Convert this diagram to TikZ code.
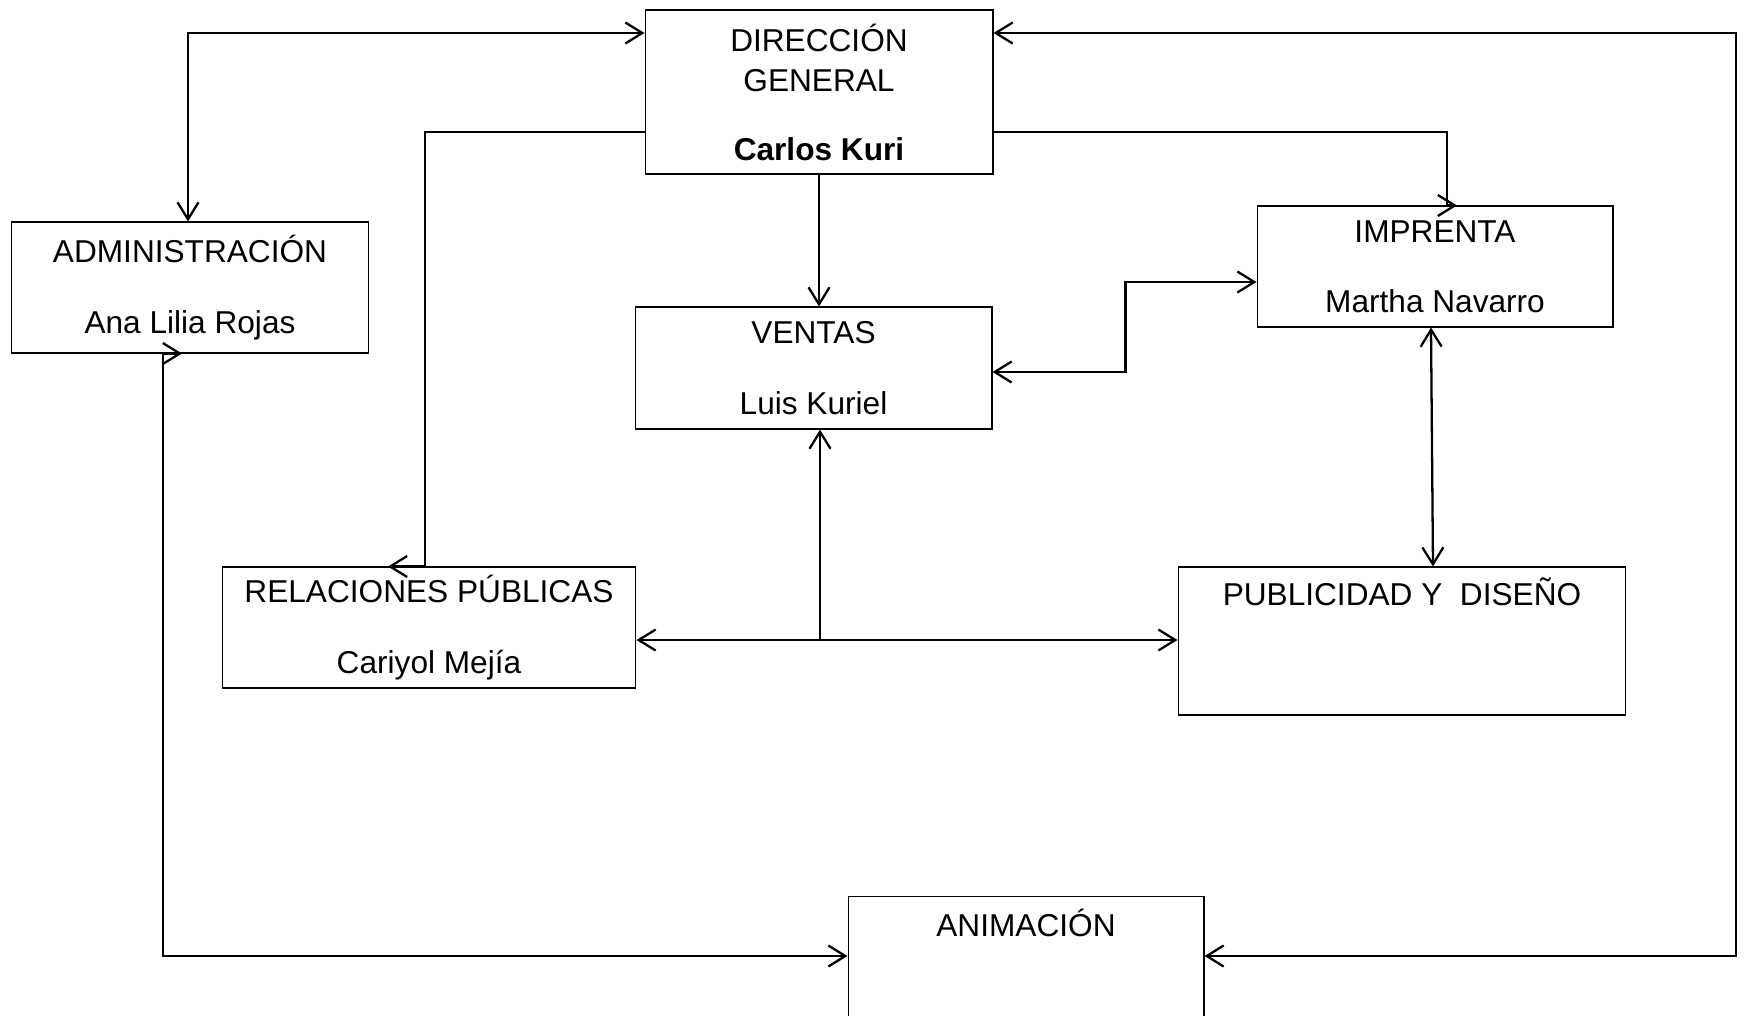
\documentclass[tikz,border=0pt]{standalone}
\usepackage{fontspec}
\setmainfont{Liberation Sans}
\usetikzlibrary{arrows.meta}

\begin{document}
\begin{tikzpicture}[x=0.02cm, y=-0.02cm, font=\fontsize{18}{23}\selectfont,
        >={Straight Barb[length=3.4mm, width=4.2mm]},
        caja/.style={draw, line width=0.6pt, align=center, inner sep=0pt},
        con/.style={line width=1.3pt}]
    \clip (0,0) rectangle (1745,1015);
    % cajas
    \node[caja, minimum width=6.96cm, minimum height=3.28cm] (dg) at (819,92)
        {DIRECCIÓN\\GENERAL\\[16pt]\textbf{Carlos Kuri}};
    \node[caja, minimum width=7.13cm, minimum height=2.62cm] (adm) at (190,287.5)
        {ADMINISTRACIÓN\\[17pt]Ana Lilia Rojas};
    \node[caja, minimum width=7.14cm, minimum height=2.44cm] (ven) at (813.5,368)
        {VENTAS\\[17pt]Luis Kuriel};
    \node[caja, minimum width=7.12cm, minimum height=2.42cm] (imp) at (1435,266.5)
        {IMPRENTA\\[17pt]Martha Navarro};
    \node[caja, minimum width=8.28cm, minimum height=2.42cm] (rel) at (429,627.5)
        {RELACIONES PÚBLICAS\\[17pt]Cariyol Mejía};
    \node[caja, minimum width=8.96cm, minimum height=2.96cm,
        label={[anchor=base, yshift=-0.79cm]north:PUBLICIDAD Y\ \ DISEÑO}] (pub) at (1402,641) {};
    \node[caja, minimum width=7.12cm, minimum height=2.86cm,
        label={[anchor=base, yshift=-0.82cm]north:ANIMACIÓN}] (ani) at (1026,968) {};
    % conectores
    \draw[con, <->] (adm.north -| 188,0) |- (dg.west |- 0,33);
    \draw[con, ->] (dg.west |- 0,132) -| (rel.north -| 425,0) -- ++(-37,0);
    \draw[con, ->] (dg.east |- 0,132) -| (imp.north -| 1447,0) -- ++(10,0);
    \draw[con, ->] (dg.south) -- (dg.south |- ven.north);
    \draw[con, <->] (ven.east |- 0,372) -- ++(133,0) |- (imp.west |- 0,282);
    \draw[con, <->] (imp.south -| 1431,0) -- (pub.north -| 1433,0);
    \coordinate (cruce) at (820,640);
    \draw[con, ->] (cruce) -- (cruce |- ven.south);
    \draw[con, <->] (rel.east |- cruce) -- (pub.west |- cruce);
    \draw[con, <->] (ani.west |- 0,956) -| (adm.south -| 163,0) -- (adm.south -| 182,0);
    \draw[con, <->] (ani.east |- 0,956) -| (1736,33) -- (dg.east |- 0,33);
\end{tikzpicture}
\end{document}
